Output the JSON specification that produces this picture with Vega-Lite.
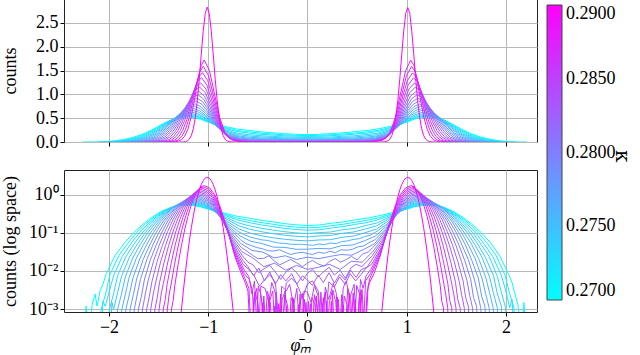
{
"$schema": "https://vega.github.io/schema/vega-lite/v6.json",
"padding": {"left": 0, "top": -2, "right": 0, "bottom": 0},
"background": "white",
"spacing": 17,
"resolve": {"scale": {"x": "independent", "y": "independent", "color": "shared"}},
"data": {"values": [
{"k":0.27,"x":-2.26,"y":0.0001},{"k":0.27,"x":-2.23,"y":0.0012},{"k":0.27,"x":-2.2,"y":0.0001},{"k":0.27,"x":-2.17,"y":0.0013},{"k":0.27,"x":-2.14,"y":0.0025},{"k":0.27,"x":-2.12,"y":0.0012},{"k":0.27,"x":-2.09,"y":0.003},{"k":0.27,"x":-2.06,"y":0.0045},{"k":0.27,"x":-2.028,"y":0.0085},{"k":0.27,"x":-1.936,"y":0.0261},{"k":0.27,"x":-1.844,"y":0.0537},{"k":0.27,"x":-1.752,"y":0.1005},{"k":0.27,"x":-1.66,"y":0.166},{"k":0.27,"x":-1.568,"y":0.253},{"k":0.27,"x":-1.476,"y":0.359},{"k":0.27,"x":-1.384,"y":0.453},{"k":0.27,"x":-1.292,"y":0.514},{"k":0.27,"x":-1.2,"y":0.53},{"k":0.27,"x":-1.14,"y":0.51},{"k":0.27,"x":-1.08,"y":0.48},{"k":0.27,"x":-1.02,"y":0.43},{"k":0.27,"x":-0.96,"y":0.395},{"k":0.27,"x":-0.9,"y":0.36},{"k":0.27,"x":-0.84,"y":0.33},{"k":0.27,"x":-0.72,"y":0.275},{"k":0.27,"x":-0.6,"y":0.245},{"k":0.27,"x":-0.48,"y":0.215},{"k":0.27,"x":-0.36,"y":0.195},{"k":0.27,"x":-0.24,"y":0.175},{"k":0.27,"x":-0.12,"y":0.162},{"k":0.27,"x":0,"y":0.155},
{"k":0.27,"x":0.12,"y":0.16},{"k":0.27,"x":0.24,"y":0.178},{"k":0.27,"x":0.36,"y":0.192},{"k":0.27,"x":0.48,"y":0.218},{"k":0.27,"x":0.6,"y":0.242},{"k":0.27,"x":0.72,"y":0.278},{"k":0.27,"x":0.84,"y":0.33},{"k":0.27,"x":0.9,"y":0.362},{"k":0.27,"x":0.96,"y":0.4},{"k":0.27,"x":1.02,"y":0.43},{"k":0.27,"x":1.08,"y":0.485},{"k":0.27,"x":1.14,"y":0.505},{"k":0.27,"x":1.2,"y":0.53},{"k":0.27,"x":1.292,"y":0.51},{"k":0.27,"x":1.384,"y":0.455},{"k":0.27,"x":1.476,"y":0.355},{"k":0.27,"x":1.568,"y":0.25},{"k":0.27,"x":1.66,"y":0.165},{"k":0.27,"x":1.752,"y":0.1},{"k":0.27,"x":1.844,"y":0.055},{"k":0.27,"x":1.936,"y":0.025},{"k":0.27,"x":2.028,"y":0.008},{"k":0.27,"x":2.06,"y":0.005},{"k":0.27,"x":2.09,"y":0.0025},{"k":0.27,"x":2.12,"y":0.0013},{"k":0.27,"x":2.15,"y":0.0001},{"k":0.27,"x":2.18,"y":0.0015},{"k":0.27,"x":2.21,"y":0.0001},

{"k":0.271,"x":-2.11,"y":0.0001},{"k":0.271,"x":-2.079,"y":0.001},{"k":0.271,"x":-2.034,"y":0.0025},{"k":0.271,"x":-1.99,"y":0.0081},{"k":0.271,"x":-1.901,"y":0.0252},{"k":0.271,"x":-1.812,"y":0.0525},{"k":0.271,"x":-1.724,"y":0.0997},{"k":0.271,"x":-1.635,"y":0.1668},{"k":0.271,"x":-1.546,"y":0.2568},{"k":0.271,"x":-1.457,"y":0.367},{"k":0.271,"x":-1.369,"y":0.466},{"k":0.271,"x":-1.28,"y":0.5305},{"k":0.271,"x":-1.191,"y":0.548},{"k":0.271,"x":-1.131,"y":0.526},{"k":0.271,"x":-1.072,"y":0.49},{"k":0.271,"x":-1.012,"y":0.432},{"k":0.271,"x":-0.953,"y":0.387},{"k":0.271,"x":-0.893,"y":0.344},{"k":0.271,"x":-0.834,"y":0.306},{"k":0.271,"x":-0.715,"y":0.245},{"k":0.271,"x":-0.596,"y":0.2135},{"k":0.271,"x":-0.476,"y":0.187},{"k":0.271,"x":-0.357,"y":0.169},{"k":0.271,"x":-0.238,"y":0.151},{"k":0.271,"x":-0.119,"y":0.141},{"k":0.271,"x":0,"y":0.135},
{"k":0.271,"x":0.119,"y":0.139},{"k":0.271,"x":0.238,"y":0.153},{"k":0.271,"x":0.357,"y":0.167},{"k":0.271,"x":0.476,"y":0.188},{"k":0.271,"x":0.596,"y":0.212},{"k":0.271,"x":0.715,"y":0.247},{"k":0.271,"x":0.834,"y":0.305},{"k":0.271,"x":0.893,"y":0.345},{"k":0.271,"x":0.953,"y":0.386},{"k":0.271,"x":1.012,"y":0.433},{"k":0.271,"x":1.072,"y":0.49},{"k":0.271,"x":1.131,"y":0.525},{"k":0.271,"x":1.191,"y":0.547},{"k":0.271,"x":1.28,"y":0.532},{"k":0.271,"x":1.369,"y":0.464},{"k":0.271,"x":1.457,"y":0.369},{"k":0.271,"x":1.546,"y":0.255},{"k":0.271,"x":1.635,"y":0.168},{"k":0.271,"x":1.724,"y":0.098},{"k":0.271,"x":1.812,"y":0.053},{"k":0.271,"x":1.901,"y":0.025},{"k":0.271,"x":1.99,"y":0.0078},{"k":0.271,"x":2.034,"y":0.0027},{"k":0.271,"x":2.079,"y":0.0011},{"k":0.271,"x":2.11,"y":0.0001},

{"k":0.272,"x":-2.09,"y":0.0001},{"k":0.272,"x":-2.06,"y":0.0016},{"k":0.272,"x":-2.037,"y":0.0012},{"k":0.272,"x":-1.995,"y":0.003},{"k":0.272,"x":-1.952,"y":0.0078},{"k":0.272,"x":-1.866,"y":0.0242},{"k":0.272,"x":-1.781,"y":0.0513},{"k":0.272,"x":-1.695,"y":0.0988},{"k":0.272,"x":-1.61,"y":0.168},{"k":0.272,"x":-1.524,"y":0.26},{"k":0.272,"x":-1.439,"y":0.375},{"k":0.272,"x":-1.353,"y":0.479},{"k":0.272,"x":-1.268,"y":0.547},{"k":0.272,"x":-1.182,"y":0.567},{"k":0.272,"x":-1.123,"y":0.543},{"k":0.272,"x":-1.064,"y":0.501},{"k":0.272,"x":-1.005,"y":0.434},{"k":0.272,"x":-0.946,"y":0.38},{"k":0.272,"x":-0.887,"y":0.328},{"k":0.272,"x":-0.827,"y":0.283},{"k":0.272,"x":-0.709,"y":0.218},{"k":0.272,"x":-0.591,"y":0.186},{"k":0.272,"x":-0.473,"y":0.162},{"k":0.272,"x":-0.355,"y":0.146},{"k":0.272,"x":-0.236,"y":0.131},{"k":0.272,"x":-0.118,"y":0.122},{"k":0.272,"x":0,"y":0.117},
{"k":0.272,"x":0.118,"y":0.12},{"k":0.272,"x":0.236,"y":0.133},{"k":0.272,"x":0.355,"y":0.145},{"k":0.272,"x":0.473,"y":0.165},{"k":0.272,"x":0.591,"y":0.183},{"k":0.272,"x":0.709,"y":0.22},{"k":0.272,"x":0.827,"y":0.28},{"k":0.272,"x":0.887,"y":0.33},{"k":0.272,"x":0.946,"y":0.378},{"k":0.272,"x":1.005,"y":0.436},{"k":0.272,"x":1.064,"y":0.5},{"k":0.272,"x":1.123,"y":0.54},{"k":0.272,"x":1.182,"y":0.565},{"k":0.272,"x":1.268,"y":0.545},{"k":0.272,"x":1.353,"y":0.48},{"k":0.272,"x":1.439,"y":0.372},{"k":0.272,"x":1.524,"y":0.262},{"k":0.272,"x":1.61,"y":0.165},{"k":0.272,"x":1.695,"y":0.1},{"k":0.272,"x":1.781,"y":0.05},{"k":0.272,"x":1.866,"y":0.024},{"k":0.272,"x":1.952,"y":0.0078},{"k":0.272,"x":1.995,"y":0.0032},{"k":0.272,"x":2.037,"y":0.0011},{"k":0.272,"x":2.06,"y":0.0018},{"k":0.272,"x":2.09,"y":0.0001},

{"k":0.273,"x":-2.03,"y":0.0001},{"k":0.273,"x":-1.995,"y":0.001},{"k":0.273,"x":-1.954,"y":0.0025},{"k":0.273,"x":-1.913,"y":0.0075},{"k":0.273,"x":-1.831,"y":0.0235},{"k":0.273,"x":-1.748,"y":0.0506},{"k":0.273,"x":-1.666,"y":0.099},{"k":0.273,"x":-1.584,"y":0.1705},{"k":0.273,"x":-1.502,"y":0.2682},{"k":0.273,"x":-1.42,"y":0.3893},{"k":0.273,"x":-1.337,"y":0.5005},{"k":0.273,"x":-1.255,"y":0.5745},{"k":0.273,"x":-1.173,"y":0.597},{"k":0.273,"x":-1.114,"y":0.568},{"k":0.273,"x":-1.056,"y":0.516},{"k":0.273,"x":-0.997,"y":0.437},{"k":0.273,"x":-0.938,"y":0.369},{"k":0.273,"x":-0.88,"y":0.307},{"k":0.273,"x":-0.821,"y":0.253},{"k":0.273,"x":-0.704,"y":0.184},{"k":0.273,"x":-0.587,"y":0.152},{"k":0.273,"x":-0.469,"y":0.132},{"k":0.273,"x":-0.352,"y":0.118},{"k":0.273,"x":-0.235,"y":0.107},{"k":0.273,"x":-0.117,"y":0.0995},{"k":0.273,"x":0,"y":0.0956},
{"k":0.273,"x":0.117,"y":0.101},{"k":0.273,"x":0.235,"y":0.105},{"k":0.273,"x":0.352,"y":0.12},{"k":0.273,"x":0.469,"y":0.13},{"k":0.273,"x":0.587,"y":0.154},{"k":0.273,"x":0.704,"y":0.182},{"k":0.273,"x":0.821,"y":0.255},{"k":0.273,"x":0.88,"y":0.306},{"k":0.273,"x":0.938,"y":0.37},{"k":0.273,"x":0.997,"y":0.436},{"k":0.273,"x":1.056,"y":0.518},{"k":0.273,"x":1.114,"y":0.566},{"k":0.273,"x":1.173,"y":0.598},{"k":0.273,"x":1.255,"y":0.572},{"k":0.273,"x":1.337,"y":0.503},{"k":0.273,"x":1.42,"y":0.387},{"k":0.273,"x":1.502,"y":0.27},{"k":0.273,"x":1.584,"y":0.169},{"k":0.273,"x":1.666,"y":0.1},{"k":0.273,"x":1.748,"y":0.05},{"k":0.273,"x":1.831,"y":0.0238},{"k":0.273,"x":1.913,"y":0.0072},{"k":0.273,"x":1.954,"y":0.0027},{"k":0.273,"x":1.995,"y":0.0011},{"k":0.273,"x":2.03,"y":0.0001},

{"k":0.274,"x":-1.99,"y":0.0001},{"k":0.274,"x":-1.97,"y":0.0015},{"k":0.274,"x":-1.953,"y":0.001},{"k":0.274,"x":-1.913,"y":0.0027},{"k":0.274,"x":-1.874,"y":0.0072},{"k":0.274,"x":-1.795,"y":0.0227},{"k":0.274,"x":-1.716,"y":0.0499},{"k":0.274,"x":-1.637,"y":0.0992},{"k":0.274,"x":-1.559,"y":0.173},{"k":0.274,"x":-1.48,"y":0.276},{"k":0.274,"x":-1.401,"y":0.404},{"k":0.274,"x":-1.322,"y":0.522},{"k":0.274,"x":-1.243,"y":0.602},{"k":0.274,"x":-1.164,"y":0.626},{"k":0.274,"x":-1.106,"y":0.594},{"k":0.274,"x":-1.048,"y":0.532},{"k":0.274,"x":-0.989,"y":0.44},{"k":0.274,"x":-0.931,"y":0.358},{"k":0.274,"x":-0.873,"y":0.287},{"k":0.274,"x":-0.815,"y":0.226},{"k":0.274,"x":-0.698,"y":0.155},{"k":0.274,"x":-0.582,"y":0.124},{"k":0.274,"x":-0.466,"y":0.107},{"k":0.274,"x":-0.349,"y":0.095},{"k":0.274,"x":-0.233,"y":0.0867},{"k":0.274,"x":-0.116,"y":0.0811},{"k":0.274,"x":0,"y":0.0781},
{"k":0.274,"x":0.116,"y":0.083},{"k":0.274,"x":0.233,"y":0.085},{"k":0.274,"x":0.349,"y":0.097},{"k":0.274,"x":0.466,"y":0.105},{"k":0.274,"x":0.582,"y":0.126},{"k":0.274,"x":0.698,"y":0.153},{"k":0.274,"x":0.815,"y":0.228},{"k":0.274,"x":0.873,"y":0.285},{"k":0.274,"x":0.931,"y":0.36},{"k":0.274,"x":0.989,"y":0.438},{"k":0.274,"x":1.048,"y":0.535},{"k":0.274,"x":1.106,"y":0.59},{"k":0.274,"x":1.164,"y":0.625},{"k":0.274,"x":1.243,"y":0.6},{"k":0.274,"x":1.322,"y":0.525},{"k":0.274,"x":1.401,"y":0.4},{"k":0.274,"x":1.48,"y":0.278},{"k":0.274,"x":1.559,"y":0.17},{"k":0.274,"x":1.637,"y":0.1},{"k":0.274,"x":1.716,"y":0.05},{"k":0.274,"x":1.795,"y":0.022},{"k":0.274,"x":1.874,"y":0.0075},{"k":0.274,"x":1.913,"y":0.0025},{"k":0.274,"x":1.953,"y":0.0012},{"k":0.274,"x":1.975,"y":0.0001},

{"k":0.275,"x":-1.945,"y":0.0001},{"k":0.275,"x":-1.912,"y":0.001},{"k":0.275,"x":-1.874,"y":0.0025},{"k":0.275,"x":-1.836,"y":0.0069},{"k":0.275,"x":-1.76,"y":0.022},{"k":0.275,"x":-1.685,"y":0.0494},{"k":0.275,"x":-1.609,"y":0.0999},{"k":0.275,"x":-1.534,"y":0.1774},{"k":0.275,"x":-1.458,"y":0.2859},{"k":0.275,"x":-1.382,"y":0.422},{"k":0.275,"x":-1.307,"y":0.5498},{"k":0.275,"x":-1.231,"y":0.6375},{"k":0.275,"x":-1.156,"y":0.664},{"k":0.275,"x":-1.098,"y":0.626},{"k":0.275,"x":-1.04,"y":0.552},{"k":0.275,"x":-0.982,"y":0.444},{"k":0.275,"x":-0.924,"y":0.346},{"k":0.275,"x":-0.867,"y":0.265},{"k":0.275,"x":-0.809,"y":0.198},{"k":0.275,"x":-0.693,"y":0.127},{"k":0.275,"x":-0.578,"y":0.098},{"k":0.275,"x":-0.462,"y":0.0836},{"k":0.275,"x":-0.347,"y":0.0739},{"k":0.275,"x":-0.231,"y":0.0677},{"k":0.275,"x":-0.116,"y":0.0636},{"k":0.275,"x":0,"y":0.0614},
{"k":0.275,"x":0.116,"y":0.065},{"k":0.275,"x":0.231,"y":0.066},{"k":0.275,"x":0.347,"y":0.076},{"k":0.275,"x":0.462,"y":0.082},{"k":0.275,"x":0.578,"y":0.1},{"k":0.275,"x":0.693,"y":0.125},{"k":0.275,"x":0.809,"y":0.2},{"k":0.275,"x":0.867,"y":0.263},{"k":0.275,"x":0.924,"y":0.348},{"k":0.275,"x":0.982,"y":0.442},{"k":0.275,"x":1.04,"y":0.554},{"k":0.275,"x":1.098,"y":0.624},{"k":0.275,"x":1.156,"y":0.665},{"k":0.275,"x":1.231,"y":0.636},{"k":0.275,"x":1.307,"y":0.552},{"k":0.275,"x":1.382,"y":0.42},{"k":0.275,"x":1.458,"y":0.288},{"k":0.275,"x":1.534,"y":0.176},{"k":0.275,"x":1.609,"y":0.101},{"k":0.275,"x":1.685,"y":0.049},{"k":0.275,"x":1.76,"y":0.0225},{"k":0.275,"x":1.836,"y":0.0067},{"k":0.275,"x":1.874,"y":0.0026},{"k":0.275,"x":1.912,"y":0.0011},{"k":0.275,"x":1.945,"y":0.0001},

{"k":0.276,"x":-1.9,"y":0.0001},{"k":0.276,"x":-1.87,"y":0.001},{"k":0.276,"x":-1.834,"y":0.0025},{"k":0.276,"x":-1.798,"y":0.0067},{"k":0.276,"x":-1.725,"y":0.0213},{"k":0.276,"x":-1.653,"y":0.0489},{"k":0.276,"x":-1.581,"y":0.1005},{"k":0.276,"x":-1.509,"y":0.181},{"k":0.276,"x":-1.436,"y":0.296},{"k":0.276,"x":-1.364,"y":0.44},{"k":0.276,"x":-1.292,"y":0.578},{"k":0.276,"x":-1.219,"y":0.673},{"k":0.276,"x":-1.147,"y":0.703},{"k":0.276,"x":-1.09,"y":0.66},{"k":0.276,"x":-1.032,"y":0.572},{"k":0.276,"x":-0.975,"y":0.448},{"k":0.276,"x":-0.918,"y":0.335},{"k":0.276,"x":-0.86,"y":0.245},{"k":0.276,"x":-0.803,"y":0.173},{"k":0.276,"x":-0.688,"y":0.104},{"k":0.276,"x":-0.63,"y":0.088},{"k":0.276,"x":-0.574,"y":0.0773},{"k":0.276,"x":-0.52,"y":0.071},{"k":0.276,"x":-0.459,"y":0.0653},{"k":0.276,"x":-0.4,"y":0.063},{"k":0.276,"x":-0.344,"y":0.0575},{"k":0.276,"x":-0.29,"y":0.054},{"k":0.276,"x":-0.229,"y":0.0529},{"k":0.276,"x":-0.17,"y":0.05},{"k":0.276,"x":-0.115,"y":0.0499},{"k":0.276,"x":-0.06,"y":0.05},{"k":0.276,"x":0,"y":0.0483},
{"k":0.276,"x":0.06,"y":0.047},{"k":0.276,"x":0.115,"y":0.051},{"k":0.276,"x":0.17,"y":0.049},{"k":0.276,"x":0.229,"y":0.054},{"k":0.276,"x":0.29,"y":0.052},{"k":0.276,"x":0.344,"y":0.059},{"k":0.276,"x":0.4,"y":0.061},{"k":0.276,"x":0.459,"y":0.067},{"k":0.276,"x":0.52,"y":0.07},{"k":0.276,"x":0.574,"y":0.079},{"k":0.276,"x":0.63,"y":0.086},{"k":0.276,"x":0.688,"y":0.105},{"k":0.276,"x":0.803,"y":0.171},{"k":0.276,"x":0.86,"y":0.247},{"k":0.276,"x":0.918,"y":0.333},{"k":0.276,"x":0.975,"y":0.45},{"k":0.276,"x":1.032,"y":0.57},{"k":0.276,"x":1.09,"y":0.662},{"k":0.276,"x":1.147,"y":0.7},{"k":0.276,"x":1.219,"y":0.675},{"k":0.276,"x":1.292,"y":0.575},{"k":0.276,"x":1.364,"y":0.442},{"k":0.276,"x":1.436,"y":0.294},{"k":0.276,"x":1.509,"y":0.183},{"k":0.276,"x":1.581,"y":0.099},{"k":0.276,"x":1.653,"y":0.05},{"k":0.276,"x":1.725,"y":0.021},{"k":0.276,"x":1.798,"y":0.0065},{"k":0.276,"x":1.834,"y":0.0027},{"k":0.276,"x":1.87,"y":0.0011},{"k":0.276,"x":1.9,"y":0.0001},

{"k":0.277,"x":-1.86,"y":0.0001},{"k":0.277,"x":-1.829,"y":0.001},{"k":0.277,"x":-1.794,"y":0.0025},{"k":0.277,"x":-1.759,"y":0.0065},{"k":0.277,"x":-1.69,"y":0.0207},{"k":0.277,"x":-1.621,"y":0.0485},{"k":0.277,"x":-1.552,"y":0.1015},{"k":0.277,"x":-1.483,"y":0.1863},{"k":0.277,"x":-1.414,"y":0.3081},{"k":0.277,"x":-1.345,"y":0.4629},{"k":0.277,"x":-1.276,"y":0.6118},{"k":0.277,"x":-1.207,"y":0.7165},{"k":0.277,"x":-1.138,"y":0.751},{"k":0.277,"x":-1.081,"y":0.7},{"k":0.277,"x":-1.024,"y":0.5955},{"k":0.277,"x":-0.967,"y":0.452},{"k":0.277,"x":-0.91,"y":0.323},{"k":0.277,"x":-0.854,"y":0.224},{"k":0.277,"x":-0.797,"y":0.15},{"k":0.277,"x":-0.683,"y":0.0831},{"k":0.277,"x":-0.569,"y":0.0596},{"k":0.277,"x":-0.455,"y":0.052},{"k":0.277,"x":-0.341,"y":0.042},{"k":0.277,"x":-0.228,"y":0.0415},{"k":0.277,"x":-0.114,"y":0.037},{"k":0.277,"x":0,"y":0.0372},
{"k":0.277,"x":0.114,"y":0.039},{"k":0.277,"x":0.228,"y":0.038},{"k":0.277,"x":0.341,"y":0.046},{"k":0.277,"x":0.455,"y":0.048},{"k":0.277,"x":0.569,"y":0.061},{"k":0.277,"x":0.683,"y":0.082},{"k":0.277,"x":0.797,"y":0.151},{"k":0.277,"x":0.854,"y":0.222},{"k":0.277,"x":0.91,"y":0.325},{"k":0.277,"x":0.967,"y":0.45},{"k":0.277,"x":1.024,"y":0.597},{"k":0.277,"x":1.081,"y":0.698},{"k":0.277,"x":1.138,"y":0.752},{"k":0.277,"x":1.207,"y":0.714},{"k":0.277,"x":1.276,"y":0.613},{"k":0.277,"x":1.345,"y":0.46},{"k":0.277,"x":1.414,"y":0.31},{"k":0.277,"x":1.483,"y":0.185},{"k":0.277,"x":1.552,"y":0.102},{"k":0.277,"x":1.621,"y":0.048},{"k":0.277,"x":1.69,"y":0.021},{"k":0.277,"x":1.759,"y":0.0063},{"k":0.277,"x":1.794,"y":0.0026},{"k":0.277,"x":1.829,"y":0.0011},{"k":0.277,"x":1.86,"y":0.0001},

{"k":0.278,"x":-1.815,"y":0.0001},{"k":0.278,"x":-1.787,"y":0.001},{"k":0.278,"x":-1.754,"y":0.0024},{"k":0.278,"x":-1.721,"y":0.0062},{"k":0.278,"x":-1.655,"y":0.0201},{"k":0.278,"x":-1.59,"y":0.048},{"k":0.278,"x":-1.524,"y":0.1025},{"k":0.278,"x":-1.458,"y":0.191},{"k":0.278,"x":-1.392,"y":0.32},{"k":0.278,"x":-1.326,"y":0.485},{"k":0.278,"x":-1.261,"y":0.646},{"k":0.278,"x":-1.195,"y":0.76},{"k":0.278,"x":-1.129,"y":0.798},{"k":0.278,"x":-1.073,"y":0.742},{"k":0.278,"x":-1.016,"y":0.62},{"k":0.278,"x":-0.96,"y":0.456},{"k":0.278,"x":-0.903,"y":0.311},{"k":0.278,"x":-0.847,"y":0.206},{"k":0.278,"x":-0.79,"y":0.13},{"k":0.278,"x":-0.677,"y":0.0667},{"k":0.278,"x":-0.62,"y":0.052},{"k":0.278,"x":-0.565,"y":0.046},{"k":0.278,"x":-0.51,"y":0.041},{"k":0.278,"x":-0.452,"y":0.0382},{"k":0.278,"x":-0.4,"y":0.034},{"k":0.278,"x":-0.339,"y":0.0332},{"k":0.278,"x":-0.28,"y":0.036},{"k":0.278,"x":-0.226,"y":0.0309},{"k":0.278,"x":-0.17,"y":0.027},{"k":0.278,"x":-0.113,"y":0.0294},{"k":0.278,"x":-0.05,"y":0.031},{"k":0.278,"x":0,"y":0.0286},
{"k":0.278,"x":0.05,"y":0.027},{"k":0.278,"x":0.113,"y":0.031},{"k":0.278,"x":0.17,"y":0.029},{"k":0.278,"x":0.226,"y":0.033},{"k":0.278,"x":0.28,"y":0.03},{"k":0.278,"x":0.339,"y":0.036},{"k":0.278,"x":0.4,"y":0.035},{"k":0.278,"x":0.452,"y":0.037},{"k":0.278,"x":0.51,"y":0.043},{"k":0.278,"x":0.565,"y":0.045},{"k":0.278,"x":0.62,"y":0.055},{"k":0.278,"x":0.677,"y":0.065},{"k":0.278,"x":0.79,"y":0.128},{"k":0.278,"x":0.847,"y":0.208},{"k":0.278,"x":0.903,"y":0.31},{"k":0.278,"x":0.96,"y":0.458},{"k":0.278,"x":1.016,"y":0.618},{"k":0.278,"x":1.073,"y":0.745},{"k":0.278,"x":1.129,"y":0.795},{"k":0.278,"x":1.195,"y":0.762},{"k":0.278,"x":1.261,"y":0.643},{"k":0.278,"x":1.326,"y":0.488},{"k":0.278,"x":1.392,"y":0.318},{"k":0.278,"x":1.458,"y":0.193},{"k":0.278,"x":1.524,"y":0.101},{"k":0.278,"x":1.59,"y":0.049},{"k":0.278,"x":1.655,"y":0.019},{"k":0.278,"x":1.721,"y":0.0065},{"k":0.278,"x":1.754,"y":0.0022},{"k":0.278,"x":1.787,"y":0.0012},{"k":0.278,"x":1.815,"y":0.0001},

{"k":0.279,"x":-1.775,"y":0.0001},{"k":0.279,"x":-1.745,"y":0.001},{"k":0.279,"x":-1.714,"y":0.0025},{"k":0.279,"x":-1.683,"y":0.006},{"k":0.279,"x":-1.62,"y":0.0195},{"k":0.279,"x":-1.558,"y":0.0477},{"k":0.279,"x":-1.495,"y":0.1037},{"k":0.279,"x":-1.433,"y":0.1971},{"k":0.279,"x":-1.37,"y":0.335},{"k":0.279,"x":-1.308,"y":0.5127},{"k":0.279,"x":-1.245,"y":0.6883},{"k":0.279,"x":-1.183,"y":0.815},{"k":0.279,"x":-1.12,"y":0.858},{"k":0.279,"x":-1.064,"y":0.791},{"k":0.279,"x":-1.008,"y":0.647},{"k":0.279,"x":-0.952,"y":0.461},{"k":0.279,"x":-0.896,"y":0.298},{"k":0.279,"x":-0.84,"y":0.187},{"k":0.279,"x":-0.784,"y":0.1106},{"k":0.279,"x":-0.672,"y":0.0525},{"k":0.279,"x":-0.56,"y":0.0347},{"k":0.279,"x":-0.448,"y":0.031},{"k":0.279,"x":-0.336,"y":0.022},{"k":0.279,"x":-0.224,"y":0.025},{"k":0.279,"x":-0.112,"y":0.02},{"k":0.279,"x":0,"y":0.023},
{"k":0.279,"x":0.112,"y":0.021},{"k":0.279,"x":0.224,"y":0.024},{"k":0.279,"x":0.336,"y":0.027},{"k":0.279,"x":0.448,"y":0.026},{"k":0.279,"x":0.56,"y":0.036},{"k":0.279,"x":0.672,"y":0.051},{"k":0.279,"x":0.784,"y":0.112},{"k":0.279,"x":0.84,"y":0.185},{"k":0.279,"x":0.896,"y":0.3},{"k":0.279,"x":0.952,"y":0.459},{"k":0.279,"x":1.008,"y":0.649},{"k":0.279,"x":1.064,"y":0.789},{"k":0.279,"x":1.12,"y":0.86},{"k":0.279,"x":1.183,"y":0.812},{"k":0.279,"x":1.245,"y":0.69},{"k":0.279,"x":1.308,"y":0.51},{"k":0.279,"x":1.37,"y":0.337},{"k":0.279,"x":1.433,"y":0.195},{"k":0.279,"x":1.495,"y":0.105},{"k":0.279,"x":1.558,"y":0.047},{"k":0.279,"x":1.62,"y":0.02},{"k":0.279,"x":1.683,"y":0.0058},{"k":0.279,"x":1.714,"y":0.0026},{"k":0.279,"x":1.745,"y":0.0011},{"k":0.279,"x":1.775,"y":0.0001},

{"k":0.28,"x":-1.73,"y":0.0001},{"k":0.28,"x":-1.703,"y":0.001},{"k":0.28,"x":-1.673,"y":0.0022},{"k":0.28,"x":-1.644,"y":0.0058},{"k":0.28,"x":-1.585,"y":0.0189},{"k":0.28,"x":-1.525,"y":0.0473},{"k":0.28,"x":-1.466,"y":0.105},{"k":0.28,"x":-1.407,"y":0.203},{"k":0.28,"x":-1.348,"y":0.35},{"k":0.28,"x":-1.289,"y":0.54},{"k":0.28,"x":-1.229,"y":0.73},{"k":0.28,"x":-1.17,"y":0.87},{"k":0.28,"x":-1.111,"y":0.917},{"k":0.28,"x":-1.055,"y":0.843},{"k":0.28,"x":-1.0,"y":0.676},{"k":0.28,"x":-0.944,"y":0.466},{"k":0.28,"x":-0.889,"y":0.286},{"k":0.28,"x":-0.833,"y":0.17},{"k":0.28,"x":-0.778,"y":0.0944},{"k":0.28,"x":-0.667,"y":0.0413},{"k":0.28,"x":-0.61,"y":0.033},{"k":0.28,"x":-0.556,"y":0.0261},{"k":0.28,"x":-0.5,"y":0.021},{"k":0.28,"x":-0.444,"y":0.0213},{"k":0.28,"x":-0.39,"y":0.025},{"k":0.28,"x":-0.333,"y":0.0182},{"k":0.28,"x":-0.28,"y":0.0145},{"k":0.28,"x":-0.222,"y":0.0172},{"k":0.28,"x":-0.17,"y":0.02},{"k":0.28,"x":-0.111,"y":0.0165},{"k":0.28,"x":-0.05,"y":0.013},{"k":0.28,"x":0,"y":0.0161},
{"k":0.28,"x":0.05,"y":0.019},{"k":0.28,"x":0.111,"y":0.015},{"k":0.28,"x":0.17,"y":0.0135},{"k":0.28,"x":0.222,"y":0.018},{"k":0.28,"x":0.28,"y":0.021},{"k":0.28,"x":0.333,"y":0.017},{"k":0.28,"x":0.39,"y":0.02},{"k":0.28,"x":0.444,"y":0.024},{"k":0.28,"x":0.5,"y":0.0195},{"k":0.28,"x":0.556,"y":0.028},{"k":0.28,"x":0.61,"y":0.031},{"k":0.28,"x":0.667,"y":0.043},{"k":0.28,"x":0.778,"y":0.093},{"k":0.28,"x":0.833,"y":0.172},{"k":0.28,"x":0.889,"y":0.284},{"k":0.28,"x":0.944,"y":0.468},{"k":0.28,"x":1.0,"y":0.674},{"k":0.28,"x":1.055,"y":0.845},{"k":0.28,"x":1.111,"y":0.915},{"k":0.28,"x":1.17,"y":0.872},{"k":0.28,"x":1.229,"y":0.728},{"k":0.28,"x":1.289,"y":0.542},{"k":0.28,"x":1.348,"y":0.348},{"k":0.28,"x":1.407,"y":0.205},{"k":0.28,"x":1.466,"y":0.104},{"k":0.28,"x":1.525,"y":0.048},{"k":0.28,"x":1.585,"y":0.0185},{"k":0.28,"x":1.644,"y":0.006},{"k":0.28,"x":1.673,"y":0.002},{"k":0.28,"x":1.703,"y":0.0012},{"k":0.28,"x":1.73,"y":0.0001},

{"k":0.281,"x":-1.69,"y":0.0001},{"k":0.281,"x":-1.662,"y":0.001},{"k":0.281,"x":-1.634,"y":0.0025},{"k":0.281,"x":-1.606,"y":0.0055},{"k":0.281,"x":-1.55,"y":0.0184},{"k":0.281,"x":-1.494,"y":0.047},{"k":0.281,"x":-1.438,"y":0.1063},{"k":0.281,"x":-1.382,"y":0.2096},{"k":0.281,"x":-1.326,"y":0.3667},{"k":0.281,"x":-1.27,"y":0.5724},{"k":0.281,"x":-1.214,"y":0.781},{"k":0.281,"x":-1.158,"y":0.9355},{"k":0.281,"x":-1.102,"y":0.989},{"k":0.281,"x":-1.047,"y":0.901},{"k":0.281,"x":-0.992,"y":0.707},{"k":0.281,"x":-0.937,"y":0.471},{"k":0.281,"x":-0.882,"y":0.274},{"k":0.281,"x":-0.827,"y":0.154},{"k":0.281,"x":-0.771,"y":0.08},{"k":0.281,"x":-0.661,"y":0.0321},{"k":0.281,"x":-0.551,"y":0.022},{"k":0.281,"x":-0.441,"y":0.013},{"k":0.281,"x":-0.331,"y":0.016},{"k":0.281,"x":-0.22,"y":0.0105},{"k":0.281,"x":-0.11,"y":0.014},{"k":0.281,"x":0,"y":0.011},
{"k":0.281,"x":0.11,"y":0.0125},{"k":0.281,"x":0.22,"y":0.015},{"k":0.281,"x":0.331,"y":0.011},{"k":0.281,"x":0.441,"y":0.018},{"k":0.281,"x":0.551,"y":0.017},{"k":0.281,"x":0.661,"y":0.033},{"k":0.281,"x":0.771,"y":0.079},{"k":0.281,"x":0.827,"y":0.155},{"k":0.281,"x":0.882,"y":0.272},{"k":0.281,"x":0.937,"y":0.473},{"k":0.281,"x":0.992,"y":0.705},{"k":0.281,"x":1.047,"y":0.903},{"k":0.281,"x":1.102,"y":0.987},{"k":0.281,"x":1.158,"y":0.937},{"k":0.281,"x":1.214,"y":0.779},{"k":0.281,"x":1.27,"y":0.574},{"k":0.281,"x":1.326,"y":0.365},{"k":0.281,"x":1.382,"y":0.211},{"k":0.281,"x":1.438,"y":0.105},{"k":0.281,"x":1.494,"y":0.048},{"k":0.281,"x":1.55,"y":0.018},{"k":0.281,"x":1.606,"y":0.0057},{"k":0.281,"x":1.634,"y":0.0023},{"k":0.281,"x":1.662,"y":0.0011},{"k":0.281,"x":1.69,"y":0.0001},

{"k":0.282,"x":-1.645,"y":0.0001},{"k":0.282,"x":-1.62,"y":0.001},{"k":0.282,"x":-1.594,"y":0.0021},{"k":0.282,"x":-1.567,"y":0.0053},{"k":0.282,"x":-1.515,"y":0.0178},{"k":0.282,"x":-1.462,"y":0.0467},{"k":0.282,"x":-1.409,"y":0.108},{"k":0.282,"x":-1.357,"y":0.216},{"k":0.282,"x":-1.304,"y":0.384},{"k":0.282,"x":-1.251,"y":0.605},{"k":0.282,"x":-1.198,"y":0.83},{"k":0.282,"x":-1.146,"y":1.0},{"k":0.282,"x":-1.093,"y":1.061},{"k":0.282,"x":-1.038,"y":0.963},{"k":0.282,"x":-0.984,"y":0.74},{"k":0.282,"x":-0.929,"y":0.476},{"k":0.282,"x":-0.874,"y":0.263},{"k":0.282,"x":-0.82,"y":0.139},{"k":0.282,"x":-0.765,"y":0.0677},{"k":0.282,"x":-0.656,"y":0.025},{"k":0.282,"x":-0.6,"y":0.017},{"k":0.282,"x":-0.547,"y":0.0144},{"k":0.282,"x":-0.49,"y":0.009},{"k":0.282,"x":-0.437,"y":0.0115},{"k":0.282,"x":-0.38,"y":0.014},{"k":0.282,"x":-0.328,"y":0.0097},{"k":0.282,"x":-0.27,"y":0.006},{"k":0.282,"x":-0.219,"y":0.0093},{"k":0.282,"x":-0.16,"y":0.012},{"k":0.282,"x":-0.109,"y":0.009},{"k":0.282,"x":-0.05,"y":0.0055},{"k":0.282,"x":0,"y":0.0088},
{"k":0.282,"x":0.05,"y":0.011},{"k":0.282,"x":0.109,"y":0.007},{"k":0.282,"x":0.16,"y":0.0095},{"k":0.282,"x":0.219,"y":0.0125},{"k":0.282,"x":0.27,"y":0.0078},{"k":0.282,"x":0.328,"y":0.0105},{"k":0.282,"x":0.38,"y":0.0065},{"k":0.282,"x":0.437,"y":0.012},{"k":0.282,"x":0.49,"y":0.015},{"k":0.282,"x":0.547,"y":0.013},{"k":0.282,"x":0.6,"y":0.018},{"k":0.282,"x":0.656,"y":0.026},{"k":0.282,"x":0.765,"y":0.066},{"k":0.282,"x":0.82,"y":0.141},{"k":0.282,"x":0.874,"y":0.26},{"k":0.282,"x":0.929,"y":0.478},{"k":0.282,"x":0.984,"y":0.738},{"k":0.282,"x":1.038,"y":0.965},{"k":0.282,"x":1.093,"y":1.058},{"k":0.282,"x":1.146,"y":1.003},{"k":0.282,"x":1.198,"y":0.828},{"k":0.282,"x":1.251,"y":0.607},{"k":0.282,"x":1.304,"y":0.382},{"k":0.282,"x":1.357,"y":0.218},{"k":0.282,"x":1.409,"y":0.106},{"k":0.282,"x":1.462,"y":0.047},{"k":0.282,"x":1.515,"y":0.0175},{"k":0.282,"x":1.567,"y":0.0055},{"k":0.282,"x":1.594,"y":0.002},{"k":0.282,"x":1.62,"y":0.0012},{"k":0.282,"x":1.645,"y":0.0001},

{"k":0.283,"x":-1.6,"y":0.0001},{"k":0.283,"x":-1.579,"y":0.001},{"k":0.283,"x":-1.554,"y":0.0025},{"k":0.283,"x":-1.529,"y":0.0051},{"k":0.283,"x":-1.48,"y":0.0173},{"k":0.283,"x":-1.43,"y":0.0464},{"k":0.283,"x":-1.381,"y":0.1093},{"k":0.283,"x":-1.332,"y":0.2239},{"k":0.283,"x":-1.282,"y":0.4038},{"k":0.283,"x":-1.233,"y":0.6438},{"k":0.283,"x":-1.183,"y":0.8933},{"k":0.283,"x":-1.134,"y":1.0825},{"k":0.283,"x":-1.085,"y":1.15},{"k":0.283,"x":-1.03,"y":1.034},{"k":0.283,"x":-0.976,"y":0.777},{"k":0.283,"x":-0.922,"y":0.4815},{"k":0.283,"x":-0.868,"y":0.251},{"k":0.283,"x":-0.813,"y":0.125},{"k":0.283,"x":-0.759,"y":0.0567},{"k":0.283,"x":-0.651,"y":0.019},{"k":0.283,"x":-0.6,"y":0.013},{"k":0.283,"x":-0.542,"y":0.0075},{"k":0.283,"x":-0.49,"y":0.012},{"k":0.283,"x":-0.434,"y":0.0055},{"k":0.283,"x":-0.38,"y":0.0095},{"k":0.283,"x":-0.325,"y":0.0045},{"k":0.283,"x":-0.27,"y":0.008},{"k":0.283,"x":-0.217,"y":0.0055},{"k":0.283,"x":-0.16,"y":0.0085},{"k":0.283,"x":-0.108,"y":0.0045},{"k":0.283,"x":-0.05,"y":0.0075},{"k":0.283,"x":0,"y":0.0058},
{"k":0.283,"x":0.05,"y":0.0042},{"k":0.283,"x":0.108,"y":0.0078},{"k":0.283,"x":0.16,"y":0.005},{"k":0.283,"x":0.217,"y":0.009},{"k":0.283,"x":0.27,"y":0.0048},{"k":0.283,"x":0.325,"y":0.0082},{"k":0.283,"x":0.38,"y":0.0058},{"k":0.283,"x":0.434,"y":0.0105},{"k":0.283,"x":0.49,"y":0.0068},{"k":0.283,"x":0.542,"y":0.011},{"k":0.283,"x":0.6,"y":0.0125},{"k":0.283,"x":0.651,"y":0.02},{"k":0.283,"x":0.759,"y":0.056},{"k":0.283,"x":0.813,"y":0.127},{"k":0.283,"x":0.868,"y":0.249},{"k":0.283,"x":0.922,"y":0.483},{"k":0.283,"x":0.976,"y":0.775},{"k":0.283,"x":1.03,"y":1.036},{"k":0.283,"x":1.085,"y":1.147},{"k":0.283,"x":1.134,"y":1.085},{"k":0.283,"x":1.183,"y":0.891},{"k":0.283,"x":1.233,"y":0.645},{"k":0.283,"x":1.282,"y":0.402},{"k":0.283,"x":1.332,"y":0.225},{"k":0.283,"x":1.381,"y":0.108},{"k":0.283,"x":1.43,"y":0.047},{"k":0.283,"x":1.48,"y":0.017},{"k":0.283,"x":1.529,"y":0.0053},{"k":0.283,"x":1.554,"y":0.0023},{"k":0.283,"x":1.579,"y":0.0011},{"k":0.283,"x":1.6,"y":0.0001},

{"k":0.284,"x":-1.56,"y":0.0001},{"k":0.284,"x":-1.537,"y":0.001},{"k":0.284,"x":-1.514,"y":0.002},{"k":0.284,"x":-1.491,"y":0.0049},{"k":0.284,"x":-1.445,"y":0.0167},{"k":0.284,"x":-1.399,"y":0.0461},{"k":0.284,"x":-1.353,"y":0.111},{"k":0.284,"x":-1.307,"y":0.232},{"k":0.284,"x":-1.26,"y":0.424},{"k":0.284,"x":-1.214,"y":0.683},{"k":0.284,"x":-1.168,"y":0.955},{"k":0.284,"x":-1.122,"y":1.164},{"k":0.284,"x":-1.076,"y":1.24},{"k":0.284,"x":-1.022,"y":1.11},{"k":0.284,"x":-0.968,"y":0.815},{"k":0.284,"x":-0.915,"y":0.487},{"k":0.284,"x":-0.861,"y":0.24},{"k":0.284,"x":-0.807,"y":0.113},{"k":0.284,"x":-0.753,"y":0.0475},{"k":0.284,"x":-0.646,"y":0.0146},{"k":0.284,"x":-0.59,"y":0.011},{"k":0.284,"x":-0.538,"y":0.0076},{"k":0.284,"x":-0.485,"y":0.004},{"k":0.284,"x":-0.43,"y":0.006},{"k":0.284,"x":-0.38,"y":0.008},{"k":0.284,"x":-0.323,"y":0.005},{"k":0.284,"x":-0.27,"y":0.0001},{"k":0.284,"x":-0.215,"y":0.0048},{"k":0.284,"x":-0.16,"y":0.0065},{"k":0.284,"x":-0.108,"y":0.0047},{"k":0.284,"x":-0.05,"y":0.002},{"k":0.284,"x":0,"y":0.0046},
{"k":0.284,"x":0.05,"y":0.0055},{"k":0.284,"x":0.108,"y":0.003},{"k":0.284,"x":0.16,"y":0.0001},{"k":0.284,"x":0.215,"y":0.0052},{"k":0.284,"x":0.27,"y":0.0038},{"k":0.284,"x":0.323,"y":0.007},{"k":0.284,"x":0.38,"y":0.0045},{"k":0.284,"x":0.43,"y":0.0085},{"k":0.284,"x":0.485,"y":0.0055},{"k":0.284,"x":0.538,"y":0.008},{"k":0.284,"x":0.59,"y":0.012},{"k":0.284,"x":0.646,"y":0.015},{"k":0.284,"x":0.753,"y":0.046},{"k":0.284,"x":0.807,"y":0.115},{"k":0.284,"x":0.861,"y":0.238},{"k":0.284,"x":0.915,"y":0.489},{"k":0.284,"x":0.968,"y":0.813},{"k":0.284,"x":1.022,"y":1.112},{"k":0.284,"x":1.076,"y":1.236},{"k":0.284,"x":1.122,"y":1.166},{"k":0.284,"x":1.168,"y":0.953},{"k":0.284,"x":1.214,"y":0.685},{"k":0.284,"x":1.26,"y":0.422},{"k":0.284,"x":1.307,"y":0.234},{"k":0.284,"x":1.353,"y":0.11},{"k":0.284,"x":1.399,"y":0.047},{"k":0.284,"x":1.445,"y":0.0165},{"k":0.284,"x":1.491,"y":0.005},{"k":0.284,"x":1.514,"y":0.0018},{"k":0.284,"x":1.537,"y":0.0011},{"k":0.284,"x":1.56,"y":0.0001},

{"k":0.285,"x":-1.515,"y":0.0001},{"k":0.285,"x":-1.495,"y":0.001},{"k":0.285,"x":-1.474,"y":0.0025},{"k":0.285,"x":-1.452,"y":0.0047},{"k":0.285,"x":-1.409,"y":0.0162},{"k":0.285,"x":-1.367,"y":0.0458},{"k":0.285,"x":-1.324,"y":0.1126},{"k":0.285,"x":-1.281,"y":0.2399},{"k":0.285,"x":-1.238,"y":0.4466},{"k":0.285,"x":-1.195,"y":0.7278},{"k":0.285,"x":-1.153,"y":1.0278},{"k":0.285,"x":-1.11,"y":1.261},{"k":0.285,"x":-1.067,"y":1.348},{"k":0.285,"x":-1.014,"y":1.195},{"k":0.285,"x":-0.96,"y":0.857},{"k":0.285,"x":-0.907,"y":0.4925},{"k":0.285,"x":-0.854,"y":0.229},{"k":0.285,"x":-0.8,"y":0.101},{"k":0.285,"x":-0.747,"y":0.0396},{"k":0.285,"x":-0.64,"y":0.011},{"k":0.285,"x":-0.59,"y":0.007},{"k":0.285,"x":-0.56,"y":0.0025},{"k":0.285,"x":-0.534,"y":0.0055},{"k":0.285,"x":-0.5,"y":0.0001},{"k":0.285,"x":-0.47,"y":0.004},{"k":0.285,"x":-0.427,"y":0.0035},{"k":0.285,"x":-0.39,"y":0.0015},{"k":0.285,"x":-0.36,"y":0.005},{"k":0.285,"x":-0.32,"y":0.0025},{"k":0.285,"x":-0.29,"y":0.0001},{"k":0.285,"x":-0.26,"y":0.004},{"k":0.285,"x":-0.213,"y":0.003},{"k":0.285,"x":-0.18,"y":0.0045},{"k":0.285,"x":-0.14,"y":0.0012},{"k":0.285,"x":-0.107,"y":0.0035},{"k":0.285,"x":-0.07,"y":0.0001},{"k":0.285,"x":-0.035,"y":0.003},{"k":0.285,"x":0,"y":0.0028},
{"k":0.285,"x":0.035,"y":0.0015},{"k":0.285,"x":0.07,"y":0.0042},{"k":0.285,"x":0.107,"y":0.0022},{"k":0.285,"x":0.14,"y":0.0001},{"k":0.285,"x":0.18,"y":0.0038},{"k":0.285,"x":0.213,"y":0.0018},{"k":0.285,"x":0.26,"y":0.0048},{"k":0.285,"x":0.29,"y":0.0026},{"k":0.285,"x":0.32,"y":0.0001},{"k":0.285,"x":0.36,"y":0.0036},{"k":0.285,"x":0.39,"y":0.0055},{"k":0.285,"x":0.427,"y":0.002},{"k":0.285,"x":0.47,"y":0.0045},{"k":0.285,"x":0.5,"y":0.0001},{"k":0.285,"x":0.534,"y":0.006},{"k":0.285,"x":0.56,"y":0.0035},{"k":0.285,"x":0.59,"y":0.0075},{"k":0.285,"x":0.64,"y":0.0112},{"k":0.285,"x":0.747,"y":0.04},{"k":0.285,"x":0.8,"y":0.1},{"k":0.285,"x":0.854,"y":0.231},{"k":0.285,"x":0.907,"y":0.49},{"k":0.285,"x":0.96,"y":0.859},{"k":0.285,"x":1.014,"y":1.193},{"k":0.285,"x":1.067,"y":1.345},{"k":0.285,"x":1.11,"y":1.263},{"k":0.285,"x":1.153,"y":1.025},{"k":0.285,"x":1.195,"y":0.73},{"k":0.285,"x":1.238,"y":0.445},{"k":0.285,"x":1.281,"y":0.241},{"k":0.285,"x":1.324,"y":0.112},{"k":0.285,"x":1.367,"y":0.046},{"k":0.285,"x":1.409,"y":0.016},{"k":0.285,"x":1.452,"y":0.0048},{"k":0.285,"x":1.474,"y":0.0024},{"k":0.285,"x":1.495,"y":0.0011},{"k":0.285,"x":1.515,"y":0.0001},

{"k":0.286,"x":-1.47,"y":0.0001},{"k":0.286,"x":-1.453,"y":0.001},{"k":0.286,"x":-1.433,"y":0.0018},{"k":0.286,"x":-1.414,"y":0.0045},{"k":0.286,"x":-1.374,"y":0.0157},{"k":0.286,"x":-1.335,"y":0.0454},{"k":0.286,"x":-1.295,"y":0.114},{"k":0.286,"x":-1.256,"y":0.248},{"k":0.286,"x":-1.216,"y":0.469},{"k":0.286,"x":-1.177,"y":0.773},{"k":0.286,"x":-1.137,"y":1.1},{"k":0.286,"x":-1.098,"y":1.358},{"k":0.286,"x":-1.058,"y":1.455},{"k":0.286,"x":-1.005,"y":1.286},{"k":0.286,"x":-0.952,"y":0.901},{"k":0.286,"x":-0.899,"y":0.498},{"k":0.286,"x":-0.846,"y":0.2185},{"k":0.286,"x":-0.794,"y":0.0905},{"k":0.286,"x":-0.741,"y":0.033},{"k":0.286,"x":-0.635,"y":0.0084},{"k":0.286,"x":-0.585,"y":0.006},{"k":0.286,"x":-0.555,"y":0.003},{"k":0.286,"x":-0.525,"y":0.0001},{"k":0.286,"x":-0.495,"y":0.004},{"k":0.286,"x":-0.465,"y":0.0022},{"k":0.286,"x":-0.435,"y":0.0001},{"k":0.286,"x":-0.405,"y":0.003},{"k":0.286,"x":-0.375,"y":0.0015},{"k":0.286,"x":-0.345,"y":0.0001},{"k":0.286,"x":-0.315,"y":0.0028},{"k":0.286,"x":-0.285,"y":0.0001},{"k":0.286,"x":-0.255,"y":0.0018},{"k":0.286,"x":-0.225,"y":0.003},{"k":0.286,"x":-0.195,"y":0.0001},{"k":0.286,"x":-0.165,"y":0.002},{"k":0.286,"x":-0.135,"y":0.0012},{"k":0.286,"x":-0.105,"y":0.0001},{"k":0.286,"x":-0.075,"y":0.0025},{"k":0.286,"x":-0.045,"y":0.0001},{"k":0.286,"x":-0.015,"y":0.0015},
{"k":0.286,"x":0.015,"y":0.0001},{"k":0.286,"x":0.045,"y":0.002},{"k":0.286,"x":0.075,"y":0.0013},{"k":0.286,"x":0.105,"y":0.0001},{"k":0.286,"x":0.135,"y":0.0028},{"k":0.286,"x":0.165,"y":0.0001},{"k":0.286,"x":0.195,"y":0.0016},{"k":0.286,"x":0.225,"y":0.0001},{"k":0.286,"x":0.255,"y":0.0032},{"k":0.286,"x":0.285,"y":0.0015},{"k":0.286,"x":0.315,"y":0.0001},{"k":0.286,"x":0.345,"y":0.0024},{"k":0.286,"x":0.375,"y":0.0001},{"k":0.286,"x":0.405,"y":0.0035},{"k":0.286,"x":0.435,"y":0.0018},{"k":0.286,"x":0.465,"y":0.0001},{"k":0.286,"x":0.495,"y":0.0042},{"k":0.286,"x":0.525,"y":0.0025},{"k":0.286,"x":0.555,"y":0.0001},{"k":0.286,"x":0.585,"y":0.0055},{"k":0.286,"x":0.635,"y":0.0086},{"k":0.286,"x":0.741,"y":0.034},{"k":0.286,"x":0.794,"y":0.089},{"k":0.286,"x":0.846,"y":0.22},{"k":0.286,"x":0.899,"y":0.496},{"k":0.286,"x":0.952,"y":0.903},{"k":0.286,"x":1.005,"y":1.283},{"k":0.286,"x":1.058,"y":1.45},{"k":0.286,"x":1.098,"y":1.36},{"k":0.286,"x":1.137,"y":1.098},{"k":0.286,"x":1.177,"y":0.775},{"k":0.286,"x":1.216,"y":0.467},{"k":0.286,"x":1.256,"y":0.25},{"k":0.286,"x":1.295,"y":0.113},{"k":0.286,"x":1.335,"y":0.046},{"k":0.286,"x":1.374,"y":0.0155},{"k":0.286,"x":1.414,"y":0.0046},{"k":0.286,"x":1.433,"y":0.0017},{"k":0.286,"x":1.453,"y":0.0011},{"k":0.286,"x":1.47,"y":0.0001},

{"k":0.287,"x":-1.43,"y":0.0001},{"k":0.287,"x":-1.412,"y":0.001},{"k":0.287,"x":-1.393,"y":0.0025},{"k":0.287,"x":-1.375,"y":0.0043},{"k":0.287,"x":-1.339,"y":0.0151},{"k":0.287,"x":-1.303,"y":0.0451},{"k":0.287,"x":-1.267,"y":0.1159},{"k":0.287,"x":-1.23,"y":0.2576},{"k":0.287,"x":-1.194,"y":0.4957},{"k":0.287,"x":-1.158,"y":0.8264},{"k":0.287,"x":-1.122,"y":1.1888},{"k":0.287,"x":-1.085,"y":1.4775},{"k":0.287,"x":-1.049,"y":1.588},{"k":0.287,"x":-0.997,"y":1.389},{"k":0.287,"x":-0.944,"y":0.949},{"k":0.287,"x":-0.892,"y":0.504},{"k":0.287,"x":-0.839,"y":0.208},{"k":0.287,"x":-0.787,"y":0.0807},{"k":0.287,"x":-0.734,"y":0.0272},{"k":0.287,"x":-0.629,"y":0.0063},{"k":0.287,"x":-0.59,"y":0.0035},{"k":0.287,"x":-0.56,"y":0.0001},{"k":0.287,"x":-0.53,"y":0.0028},{"k":0.287,"x":-0.5,"y":0.0015},{"k":0.287,"x":-0.47,"y":0.0001},{"k":0.287,"x":-0.44,"y":0.0022},{"k":0.287,"x":-0.41,"y":0.0001},{"k":0.287,"x":-0.38,"y":0.0017},{"k":0.287,"x":-0.35,"y":0.003},{"k":0.287,"x":-0.32,"y":0.0001},{"k":0.287,"x":-0.29,"y":0.0014},{"k":0.287,"x":-0.26,"y":0.0001},{"k":0.287,"x":-0.23,"y":0.0024},{"k":0.287,"x":-0.2,"y":0.0012},{"k":0.287,"x":-0.17,"y":0.0001},{"k":0.287,"x":-0.14,"y":0.0019},{"k":0.287,"x":-0.11,"y":0.0001},{"k":0.287,"x":-0.08,"y":0.0013},{"k":0.287,"x":-0.05,"y":0.0026},{"k":0.287,"x":-0.02,"y":0.0001},
{"k":0.287,"x":0.01,"y":0.0016},{"k":0.287,"x":0.04,"y":0.0001},{"k":0.287,"x":0.07,"y":0.0024},{"k":0.287,"x":0.1,"y":0.0011},{"k":0.287,"x":0.13,"y":0.0001},{"k":0.287,"x":0.16,"y":0.002},{"k":0.287,"x":0.19,"y":0.0001},{"k":0.287,"x":0.22,"y":0.0015},{"k":0.287,"x":0.25,"y":0.003},{"k":0.287,"x":0.28,"y":0.0001},{"k":0.287,"x":0.31,"y":0.0018},{"k":0.287,"x":0.34,"y":0.0001},{"k":0.287,"x":0.37,"y":0.0022},{"k":0.287,"x":0.4,"y":0.0013},{"k":0.287,"x":0.43,"y":0.0001},{"k":0.287,"x":0.46,"y":0.0027},{"k":0.287,"x":0.49,"y":0.0001},{"k":0.287,"x":0.52,"y":0.002},{"k":0.287,"x":0.55,"y":0.0033},{"k":0.287,"x":0.58,"y":0.0001},{"k":0.287,"x":0.61,"y":0.004},{"k":0.287,"x":0.629,"y":0.0065},{"k":0.287,"x":0.734,"y":0.027},{"k":0.287,"x":0.787,"y":0.081},{"k":0.287,"x":0.839,"y":0.207},{"k":0.287,"x":0.892,"y":0.505},{"k":0.287,"x":0.944,"y":0.95},{"k":0.287,"x":0.997,"y":1.39},{"k":0.287,"x":1.049,"y":1.585},{"k":0.287,"x":1.085,"y":1.48},{"k":0.287,"x":1.122,"y":1.19},{"k":0.287,"x":1.158,"y":0.825},{"k":0.287,"x":1.194,"y":0.497},{"k":0.287,"x":1.23,"y":0.256},{"k":0.287,"x":1.267,"y":0.116},{"k":0.287,"x":1.303,"y":0.045},{"k":0.287,"x":1.339,"y":0.015},{"k":0.287,"x":1.375,"y":0.0044},{"k":0.287,"x":1.393,"y":0.0024},{"k":0.287,"x":1.412,"y":0.0011},{"k":0.287,"x":1.43,"y":0.0001},

{"k":0.288,"x":-1.385,"y":0.0001},{"k":0.288,"x":-1.37,"y":0.001},{"k":0.288,"x":-1.353,"y":0.0017},{"k":0.288,"x":-1.337,"y":0.0041},{"k":0.288,"x":-1.304,"y":0.0146},{"k":0.288,"x":-1.271,"y":0.0447},{"k":0.288,"x":-1.238,"y":0.118},{"k":0.288,"x":-1.205,"y":0.267},{"k":0.288,"x":-1.172,"y":0.522},{"k":0.288,"x":-1.139,"y":0.88},{"k":0.288,"x":-1.106,"y":1.277},{"k":0.288,"x":-1.073,"y":1.597},{"k":0.288,"x":-1.04,"y":1.72},{"k":0.288,"x":-0.988,"y":1.5},{"k":0.288,"x":-0.936,"y":1.0},{"k":0.288,"x":-0.884,"y":0.51},{"k":0.288,"x":-0.832,"y":0.198},{"k":0.288,"x":-0.78,"y":0.072},{"k":0.288,"x":-0.728,"y":0.0225},{"k":0.288,"x":-0.67,"y":0.009},{"k":0.288,"x":-0.624,"y":0.0047},{"k":0.288,"x":-0.6,"y":0.003},{"k":0.288,"x":-0.57,"y":0.0001},{"k":0.288,"x":-0.54,"y":0.002},{"k":0.288,"x":-0.51,"y":0.0035},{"k":0.288,"x":-0.48,"y":0.0001},{"k":0.288,"x":-0.45,"y":0.0015},{"k":0.288,"x":-0.42,"y":0.0001},{"k":0.288,"x":-0.39,"y":0.002},{"k":0.288,"x":-0.36,"y":0.0001},{"k":0.288,"x":-0.33,"y":0.0012},{"k":0.288,"x":-0.3,"y":0.0001},{"k":0.288,"x":-0.27,"y":0.0025},{"k":0.288,"x":-0.24,"y":0.0001},{"k":0.288,"x":-0.21,"y":0.0012},{"k":0.288,"x":-0.18,"y":0.0001},{"k":0.288,"x":-0.15,"y":0.002},{"k":0.288,"x":-0.12,"y":0.0001},{"k":0.288,"x":-0.09,"y":0.0013},{"k":0.288,"x":-0.06,"y":0.0001},{"k":0.288,"x":-0.03,"y":0.0018},{"k":0.288,"x":0,"y":0.0001},
{"k":0.288,"x":0.03,"y":0.0014},{"k":0.288,"x":0.06,"y":0.0001},{"k":0.288,"x":0.09,"y":0.0022},{"k":0.288,"x":0.12,"y":0.0001},{"k":0.288,"x":0.15,"y":0.0012},{"k":0.288,"x":0.18,"y":0.0028},{"k":0.288,"x":0.21,"y":0.0001},{"k":0.288,"x":0.24,"y":0.0016},{"k":0.288,"x":0.27,"y":0.0001},{"k":0.288,"x":0.3,"y":0.0021},{"k":0.288,"x":0.33,"y":0.0001},{"k":0.288,"x":0.36,"y":0.0013},{"k":0.288,"x":0.39,"y":0.0001},{"k":0.288,"x":0.42,"y":0.0026},{"k":0.288,"x":0.45,"y":0.0001},{"k":0.288,"x":0.48,"y":0.0018},{"k":0.288,"x":0.51,"y":0.0001},{"k":0.288,"x":0.54,"y":0.0032},{"k":0.288,"x":0.57,"y":0.0001},{"k":0.288,"x":0.6,"y":0.0028},{"k":0.288,"x":0.624,"y":0.0049},{"k":0.288,"x":0.67,"y":0.0085},{"k":0.288,"x":0.728,"y":0.023},{"k":0.288,"x":0.78,"y":0.07},{"k":0.288,"x":0.832,"y":0.2},{"k":0.288,"x":0.884,"y":0.508},{"k":0.288,"x":0.936,"y":1.003},{"k":0.288,"x":0.988,"y":1.495},{"k":0.288,"x":1.04,"y":1.715},{"k":0.288,"x":1.073,"y":1.6},{"k":0.288,"x":1.106,"y":1.275},{"k":0.288,"x":1.139,"y":0.882},{"k":0.288,"x":1.172,"y":0.52},{"k":0.288,"x":1.205,"y":0.269},{"k":0.288,"x":1.238,"y":0.117},{"k":0.288,"x":1.271,"y":0.045},{"k":0.288,"x":1.304,"y":0.0144},{"k":0.288,"x":1.337,"y":0.0042},{"k":0.288,"x":1.353,"y":0.0016},{"k":0.288,"x":1.37,"y":0.0011},{"k":0.288,"x":1.385,"y":0.0001},

{"k":0.29,"s":1,"x":-1.29,"y":0.0001},{"k":0.29,"s":1,"x":-1.27,"y":0.00095},{"k":0.29,"s":1,"x":-1.25,"y":0.0031},{"k":0.29,"s":1,"x":-1.23,"y":0.0092},{"k":0.29,"s":1,"x":-1.21,"y":0.0249},{"k":0.29,"s":1,"x":-1.19,"y":0.0612},{"k":0.29,"s":1,"x":-1.17,"y":0.137},{"k":0.29,"s":1,"x":-1.15,"y":0.278},{"k":0.29,"s":1,"x":-1.13,"y":0.515},{"k":0.29,"s":1,"x":-1.11,"y":0.867},{"k":0.29,"s":1,"x":-1.09,"y":1.327},{"k":0.29,"s":1,"x":-1.07,"y":1.85},{"k":0.29,"s":1,"x":-1.05,"y":2.34},{"k":0.29,"s":1,"x":-1.03,"y":2.7},{"k":0.29,"s":1,"x":-1.01,"y":2.83},{"k":0.29,"s":1,"x":-0.99,"y":2.7},{"k":0.29,"s":1,"x":-0.97,"y":2.34},{"k":0.29,"s":1,"x":-0.95,"y":1.85},{"k":0.29,"s":1,"x":-0.93,"y":1.327},{"k":0.29,"s":1,"x":-0.91,"y":0.867},{"k":0.29,"s":1,"x":-0.89,"y":0.515},{"k":0.29,"s":1,"x":-0.87,"y":0.278},{"k":0.29,"s":1,"x":-0.85,"y":0.137},{"k":0.29,"s":1,"x":-0.83,"y":0.0612},{"k":0.29,"s":1,"x":-0.81,"y":0.0249},{"k":0.29,"s":1,"x":-0.79,"y":0.0092},{"k":0.29,"s":1,"x":-0.77,"y":0.0031},{"k":0.29,"s":1,"x":-0.75,"y":0.00095},{"k":0.29,"s":1,"x":-0.73,"y":0.0001},
{"k":0.29,"s":2,"x":0.73,"y":0.0001},{"k":0.29,"s":2,"x":0.75,"y":0.00095},{"k":0.29,"s":2,"x":0.77,"y":0.0031},{"k":0.29,"s":2,"x":0.79,"y":0.0092},{"k":0.29,"s":2,"x":0.81,"y":0.0249},{"k":0.29,"s":2,"x":0.83,"y":0.0612},{"k":0.29,"s":2,"x":0.85,"y":0.137},{"k":0.29,"s":2,"x":0.87,"y":0.278},{"k":0.29,"s":2,"x":0.89,"y":0.515},{"k":0.29,"s":2,"x":0.91,"y":0.867},{"k":0.29,"s":2,"x":0.93,"y":1.327},{"k":0.29,"s":2,"x":0.95,"y":1.85},{"k":0.29,"s":2,"x":0.97,"y":2.34},{"k":0.29,"s":2,"x":0.99,"y":2.7},{"k":0.29,"s":2,"x":1.01,"y":2.82},{"k":0.29,"s":2,"x":1.03,"y":2.7},{"k":0.29,"s":2,"x":1.05,"y":2.34},{"k":0.29,"s":2,"x":1.07,"y":1.85},{"k":0.29,"s":2,"x":1.09,"y":1.327},{"k":0.29,"s":2,"x":1.11,"y":0.867},{"k":0.29,"s":2,"x":1.13,"y":0.515},{"k":0.29,"s":2,"x":1.15,"y":0.278},{"k":0.29,"s":2,"x":1.17,"y":0.137},{"k":0.29,"s":2,"x":1.19,"y":0.0612},{"k":0.29,"s":2,"x":1.21,"y":0.0249},{"k":0.29,"s":2,"x":1.23,"y":0.0092},{"k":0.29,"s":2,"x":1.25,"y":0.0031},{"k":0.29,"s":2,"x":1.27,"y":0.00095},{"k":0.29,"s":2,"x":1.29,"y":0.0001}
]},
"vconcat": [
{
"width": 473, "height": 143,
"mark": {"type": "line", "clip": true, "strokeWidth": 1},
"encoding": {
"x": {"field": "x", "type": "quantitative", "scale": {"domain": [-2.453, 2.312], "nice": false, "zero": false}, "axis": {"values": [-2, -1, 0, 1, 2], "labels": false, "title": null}},
"y": {"field": "y", "type": "quantitative", "scale": {"domain": [0, 3.0], "nice": false, "zero": false}, "axis": {"values": [0, 0.5, 1, 1.5, 2, 2.5], "format": ".1f", "title": "counts"}},
"color": {"field": "k", "type": "quantitative", "scale": {"domain": [0.27, 0.29], "range": ["#00ffff", "#ff00ff"], "interpolate": "rgb"},
  "legend": {"title": "κ", "orient": "right", "direction": "vertical", "titleOrient": "right", "titleFont": "DejaVu Serif", "titleFontSize": 20, "titleFontStyle": "normal", "titleFontWeight": "normal", "titleAngle": 360, "titleAlign": "left", "titleAnchor": "middle", "titleBaseline": "middle", "titlePadding": 6, "titleColor": "#000000", "gradientLength": 295, "gradientThickness": 15, "gradientStrokeColor": "#444444", "gradientStrokeWidth": 1, "values": [0.27, 0.275, 0.28, 0.285, 0.29], "format": ".4f", "labelFont": "Liberation Serif", "labelFontSize": 18, "labelColor": "#000000", "labelOffset": 4, "labelBaseline": "middle", "labelOverlap": false, "offset": 3, "padding": 6}},
"detail": [{"field": "k", "type": "quantitative"}, {"field": "s", "type": "nominal"}]
}
},
{
"width": 473, "height": 142,
"mark": {"type": "line", "clip": true, "strokeWidth": 1},
"encoding": {
"x": {"field": "x", "type": "quantitative", "scale": {"domain": [-2.453, 2.312], "nice": false, "zero": false}, "axis": {"values": [-2, -1, 0, 1, 2], "format": "d", "title": "φ̄ₘ", "titleFontStyle": "italic", "titlePadding": 0}},
"y": {"field": "y", "type": "quantitative", "scale": {"type": "log", "domain": [0.000845, 4.4], "nice": false}, "axis": {"values": [0.001, 0.01, 0.1, 1], "labelExpr": "datum.value >= 0.5 ? '10⁰' : datum.value >= 0.05 ? '10⁻¹' : datum.value >= 0.005 ? '10⁻²' : '10⁻³'", "title": "counts (log space)"}},
"color": {"field": "k", "type": "quantitative", "scale": {"domain": [0.27, 0.29], "range": ["#00ffff", "#ff00ff"], "interpolate": "rgb"}},
"detail": [{"field": "k", "type": "quantitative"}, {"field": "s", "type": "nominal"}]
}
}
],
"config": {
"font": "Liberation Serif",
"view": {"stroke": "#222222", "strokeWidth": 1},
"axis": {"labelFont": "Liberation Serif", "titleFont": "Liberation Serif", "labelFontSize": 18, "titleFontSize": 18, "titleFontWeight": "normal", "labelColor": "#000000", "titleColor": "#000000", "tickColor": "#000000", "tickSize": 4, "domain": false, "gridColor": "#b8b8b8", "gridWidth": 1, "labelPadding": 2},
"axisY": {"minExtent": 42, "maxExtent": 42, "titlePadding": 3}
}
}
